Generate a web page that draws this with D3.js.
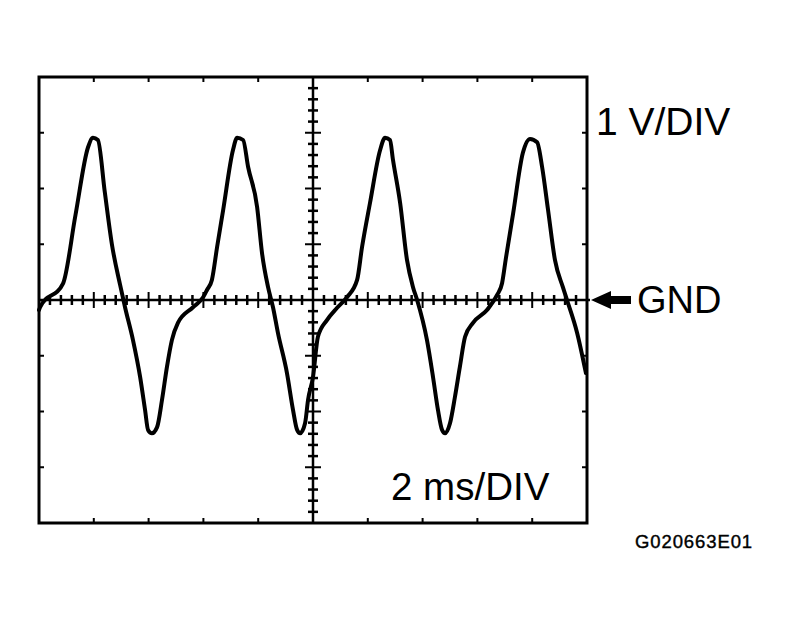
<!DOCTYPE html>
<html>
<head>
<meta charset="utf-8">
<script src="https://cdn.jsdelivr.net/npm/d3@7"></script>
<style>
  body { margin: 0; background: #fff; }
  svg { display: block; }
</style>
</head>
<body>
<div id="drawArea"></div>
<script>
// scope trace: time in ms, voltage in V
const timeMs = [0, 0.04, 0.88, 1.33, 1.79, 1.97, 2.15, 2.40, 2.66, 2.96, 3.14,
  3.43, 3.69, 3.87, 3.98, 4.12, 4.31, 4.49, 4.67, 4.85, 5.07, 5.62, 5.99, 6.13, 6.31, 6.50, 6.72,
  7.08, 7.23, 7.45, 7.63, 7.96, 8.14, 8.36, 8.54, 8.72, 9.05, 9.27, 9.42, 9.53, 9.71, 9.82, 10.0,
  10.18, 10.51, 10.88, 11.24, 11.61, 11.79, 12.08, 12.45, 12.63, 12.81, 12.92, 13.18, 13.43, 13.65,
  13.80, 14.16, 14.38, 14.56, 14.71, 14.82, 15.00, 15.18, 15.36, 15.55, 15.84, 16.35, 16.72, 16.90,
  17.04, 17.30, 17.66, 17.92, 18.18, 18.36, 18.58, 18.83, 19.12, 19.27, 19.64, 19.96];
const volts = [-0.18, -0.13, 0.30, 1.52, 2.74, 2.91, 2.87, 1.94, 1.00, 0.27, -0.13,
  -0.72, -1.38, -1.97, -2.33, -2.39, -2.28, -1.79, -1.20, -0.72, -0.41, -0.13, 0.05, 0.18, 0.36, 0.95, 1.61,
  2.69, 2.91, 2.87, 2.39, 1.67, 0.84, 0.23, -0.13, -0.59, -1.31, -1.97, -2.33, -2.39, -2.21, -1.79, -1.38,
  -0.66, -0.36, -0.14, 0.05, 0.36, 0.95, 1.74, 2.69, 2.91, 2.87, 2.51, 1.74, 0.72, 0.23,
  0, -0.72, -1.38, -1.97, -2.33, -2.39, -2.21, -1.74, -1.20, -0.66, -0.41, -0.18, 0.09, 0.30,
  0.75, 1.54, 2.64, 2.89, 2.83, 2.39, 1.61, 0.72, 0.23, 0, -0.59, -1.31];

const timeDomain = [0, 20];   // 10 div x 2 ms
const voltDomain = [-4, 4];   // 8 div x 1 V
const timeDivs = d3.range(0, 20.01, 2);
const voltDivs = d3.range(-4, 4.01, 1);
const timeMinor = d3.range(0, 20.01, 0.4);
const voltMinor = d3.range(-4, 4.01, 0.2);

const labelVolt = '1 V/DIV';
const labelTime = '2 ms/DIV';
const labelGnd = 'GND';
const figCode = 'G020663E01';

const width = 791, height = 623;
const box = { left: 39, right: 587, top: 77, bottom: 523 };
const font = 'Arial, "Liberation Sans", sans-serif';

const svg = d3.select('#drawArea').append('svg')
  .attr('width', width)
  .attr('height', height);

const x = d3.scaleLinear().domain(timeDomain).range([box.left, box.right]);
const y = d3.scaleLinear().domain(voltDomain).range([box.bottom, box.top]);

// small inward ticks on the frame, one per division
const frame = svg.append('g').attr('stroke', '#000').attr('stroke-width', 2);
timeDivs.slice(1, -1).forEach(t => {
  frame.append('line').attr('x1', x(t)).attr('x2', x(t)).attr('y1', y(4)).attr('y2', y(4) + 5);
  frame.append('line').attr('x1', x(t)).attr('x2', x(t)).attr('y1', y(-4)).attr('y2', y(-4) - 5);
});
voltDivs.slice(1, -1).forEach(v => {
  frame.append('line').attr('x1', x(0)).attr('x2', x(0) + 5).attr('y1', y(v)).attr('y2', y(v));
  frame.append('line').attr('x1', x(20)).attr('x2', x(20) - 5).attr('y1', y(v)).attr('y2', y(v));
});

// centre cross: GND line and mid time line
const cross = svg.append('g').attr('stroke', '#000');
cross.append('line')
  .attr('x1', x(0)).attr('x2', x(20) + 3)
  .attr('y1', y(0)).attr('y2', y(0))
  .attr('stroke-width', 2.5);
cross.append('line')
  .attr('x1', x(10)).attr('x2', x(10))
  .attr('y1', y(4)).attr('y2', y(-4))
  .attr('stroke-width', 2.5);

timeMinor.slice(1, -1).forEach(t => {
  const major = Math.abs(t / 2 - Math.round(t / 2)) < 1e-6;
  const len = major ? 8 : 5;
  cross.append('line')
    .attr('x1', x(t)).attr('x2', x(t))
    .attr('y1', y(0) - len).attr('y2', y(0) + len)
    .attr('stroke-width', major ? 2 : 2.5);
});
voltMinor.slice(1, -1).forEach(v => {
  const major = Math.abs(v - Math.round(v)) < 1e-6;
  const len = major ? 8 : 5;
  cross.append('line')
    .attr('x1', x(10) - len).attr('x2', x(10) + len)
    .attr('y1', y(v)).attr('y2', y(v))
    .attr('stroke-width', major ? 2 : 2.5);
});

// frame
svg.append('rect')
  .attr('x', x(0)).attr('y', y(4))
  .attr('width', x(20) - x(0)).attr('height', y(-4) - y(4))
  .attr('fill', 'none')
  .attr('stroke', '#000')
  .attr('stroke-width', 3);

// trace
const points = timeMs.map((t, i) => [t, volts[i]]);
const line = d3.line()
  .x(d => x(d[0]))
  .y(d => y(d[1]))
  .curve(d3.curveMonotoneX);

svg.append('path')
  .datum(points)
  .attr('d', line)
  .attr('fill', 'none')
  .attr('stroke', '#000')
  .attr('stroke-width', 4)
  .attr('stroke-linejoin', 'round')
  .attr('stroke-linecap', 'round');

// GND arrow
const gy = y(0);
const ax = x(20) + 4;
svg.append('path')
  .attr('d', `M${ax},${gy} L${ax + 20},${gy - 9} L${ax + 20},${gy - 4} L${ax + 40},${gy - 4} L${ax + 40},${gy + 4} L${ax + 20},${gy + 4} L${ax + 20},${gy + 9} Z`)
  .attr('fill', '#000');

// labels
const txt = svg.append('g').attr('font-family', font).attr('fill', '#000');
txt.append('text').attr('x', 596).attr('y', 135).attr('font-size', 39).text(labelVolt);
txt.append('text').attr('x', 391).attr('y', 500).attr('font-size', 38.5).text(labelTime);
txt.append('text').attr('x', 637).attr('y', 313).attr('font-size', 38).text(labelGnd);
txt.append('text').attr('x', 635).attr('y', 548).attr('font-size', 18.5)
  .attr('letter-spacing', 0.9)
  .attr('stroke', '#000').attr('stroke-width', 0.4)
  .text(figCode);
</script>
</body>
</html>
